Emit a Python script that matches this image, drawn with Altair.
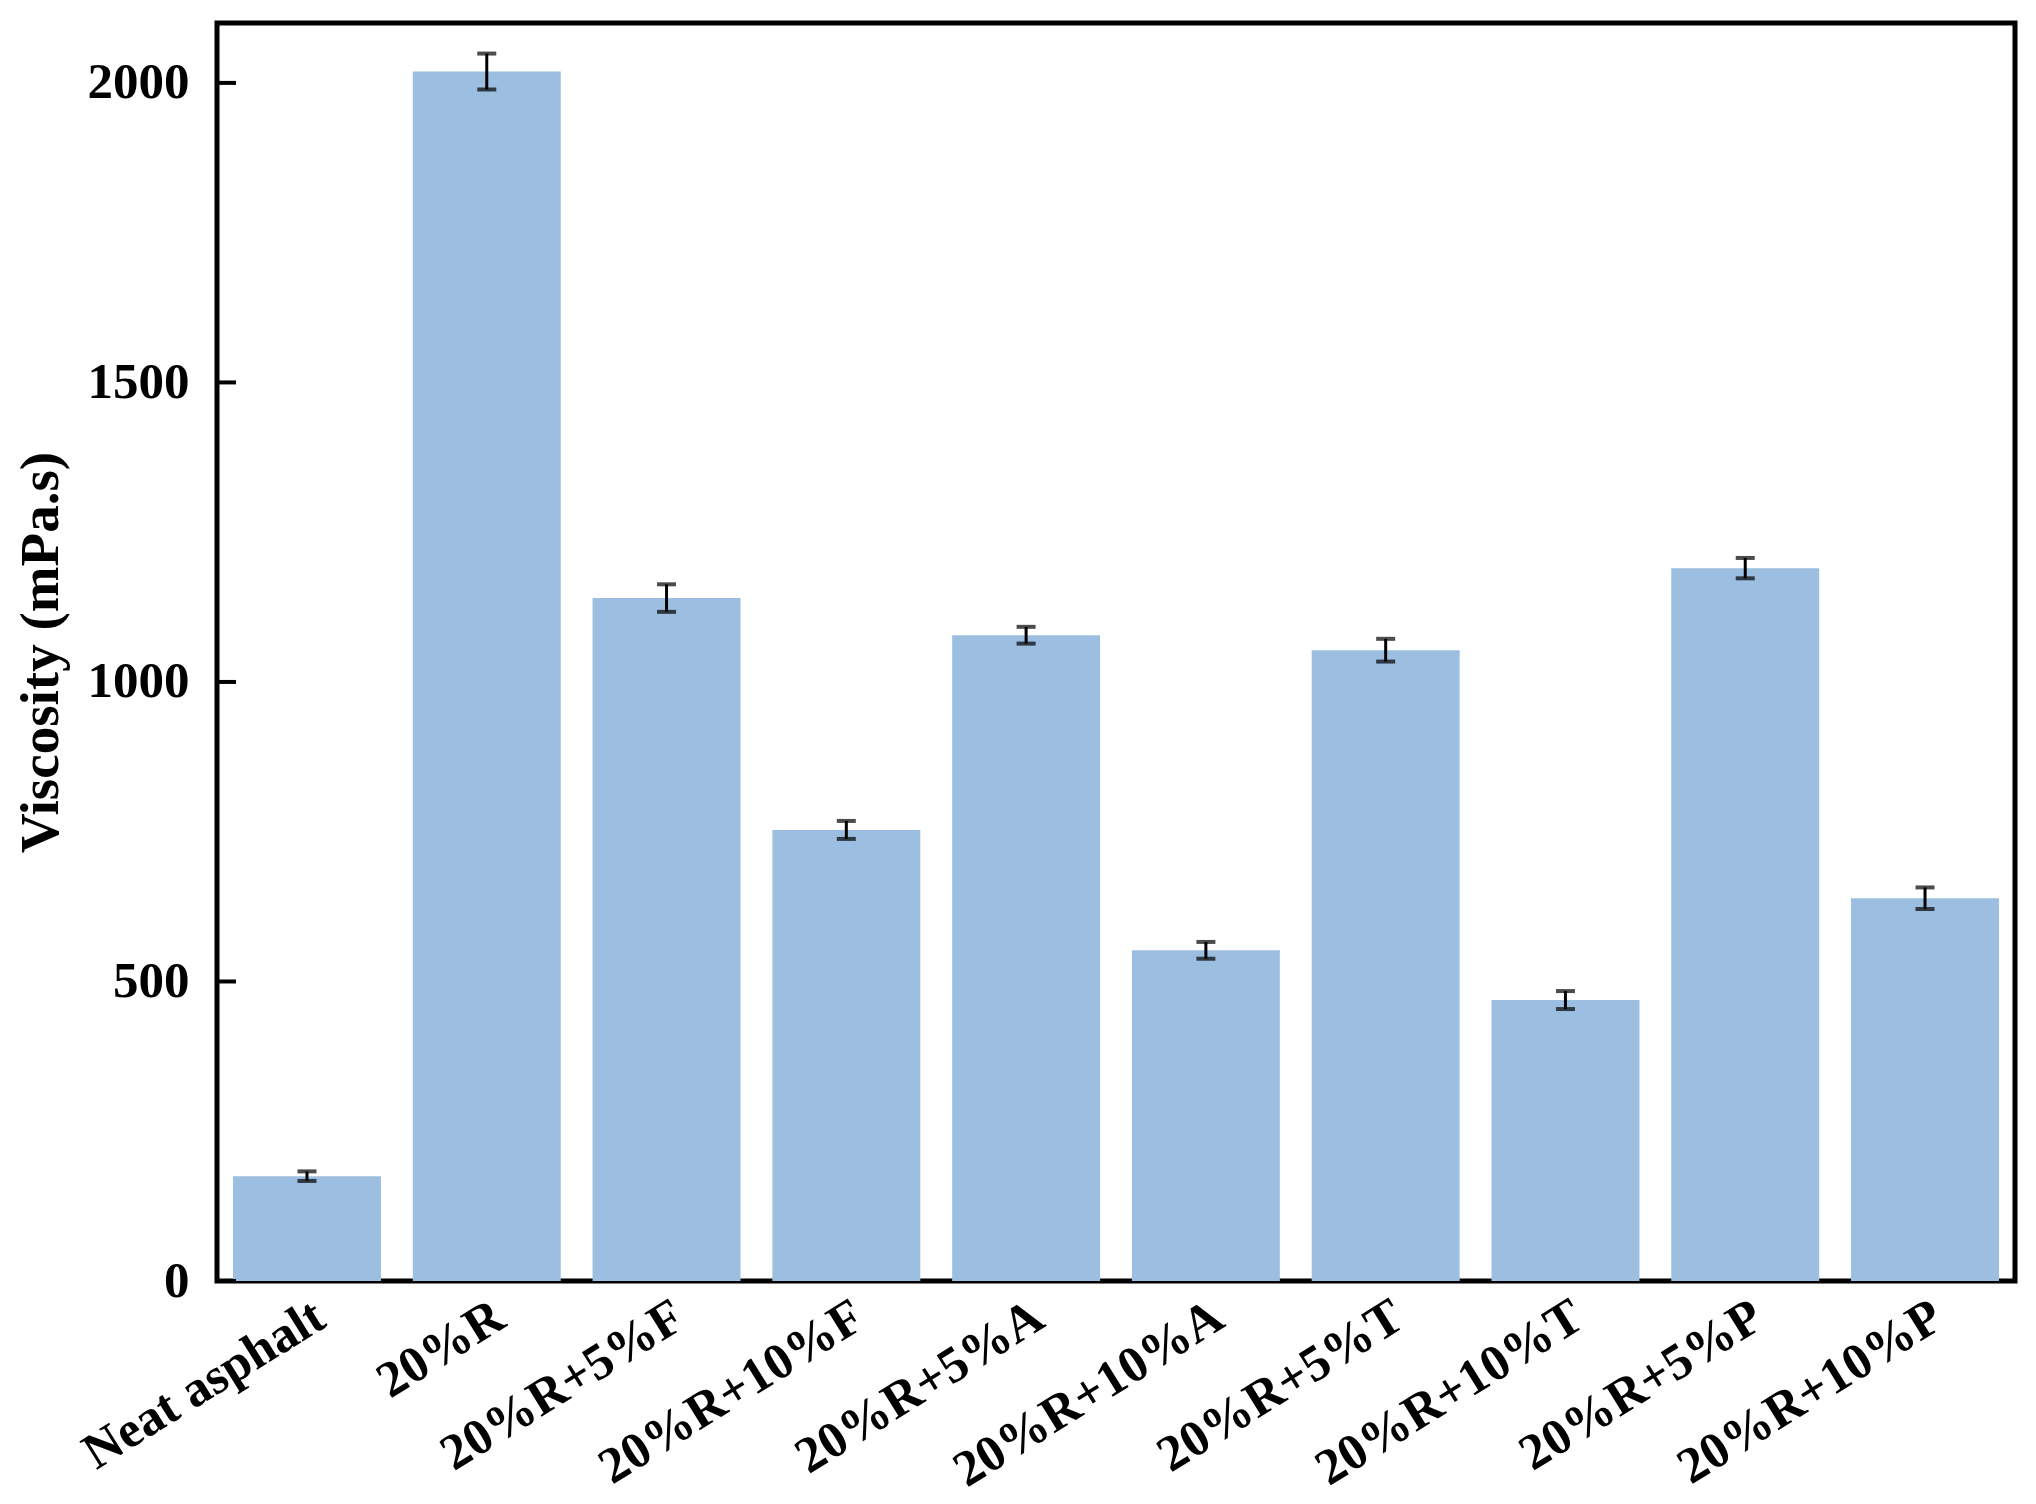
import altair as alt
import pandas as pd

categories = ["Neat asphalt", "20%R", "20%R+5%F", "20%R+10%F", "20%R+5%A",
              "20%R+10%A", "20%R+5%T", "20%R+10%T", "20%R+5%P", "20%R+10%P"]
viscosity = [175, 2019, 1140, 753, 1078, 552, 1053, 469, 1190, 639]
error = [8, 30, 23, 15, 14, 14, 19, 15, 17, 18]
tick_values = [0, 500, 1000, 1500, 2000]

df = pd.DataFrame({"cat": categories, "v": viscosity, "e": error})
df["lo"] = df["v"] - df["e"]
df["hi"] = df["v"] + df["e"]
ticks_df = pd.DataFrame({"t": tick_values})

FONT = "Liberation Serif"

x_enc = alt.X("cat:N", sort=categories, title=None,
              scale=alt.Scale(paddingInner=0.177, paddingOuter=0.089),
              axis=alt.Axis(labelAngle=328, labelFont=FONT, labelFontSize=51,
                            labelFontWeight="bold", labelColor="black", labelLimit=1000,
                            ticks=False, domain=False, labelPadding=10,
                            labelAlign="right", labelBaseline="top"))
y_scale = alt.Scale(domain=[0, 2100], nice=False)
y_enc = alt.Y("v:Q", scale=y_scale, title="Viscosity (mPa.s)",
              axis=alt.Axis(values=tick_values, grid=False, ticks=False, domain=False,
                            format="d",
                            labelFont=FONT, labelFontSize=51, labelFontWeight="bold",
                            labelColor="black", labelPadding=28,
                            titleFont=FONT, titleFontSize=55, titleFontWeight="bold",
                            titleColor="black", titlePadding=18))

bars = alt.Chart(df).mark_bar(color="#9CBFE1").encode(x=x_enc, y=y_enc)

err_rule = alt.Chart(df).mark_rule(color="black", strokeWidth=3).encode(
    x=alt.X("cat:N", sort=categories), y=alt.Y("lo:Q", scale=y_scale), y2="hi:Q")
cap_lo = alt.Chart(df).mark_tick(color="black", size=19, thickness=4).encode(
    x=alt.X("cat:N", sort=categories), y=alt.Y("lo:Q", scale=y_scale))
cap_hi = alt.Chart(df).mark_tick(color="black", size=19, thickness=4).encode(
    x=alt.X("cat:N", sort=categories), y=alt.Y("hi:Q", scale=y_scale))

yticks = alt.Chart(ticks_df).mark_rule(color="black", strokeWidth=4).encode(
    y=alt.Y("t:Q", scale=y_scale), x=alt.value(0), x2=alt.value(19))

chart = alt.layer(bars, err_rule, cap_lo, cap_hi, yticks).properties(
    width=1798, height=1258,
    background="white",
    autosize=alt.AutoSizeParams(type="none"),
    padding={"left": 209, "top": 15, "right": 13, "bottom": 215},
).configure_view(stroke="black", strokeWidth=5)

chart.save("out.html", embed_options={"renderer": "svg", "actions": False})
